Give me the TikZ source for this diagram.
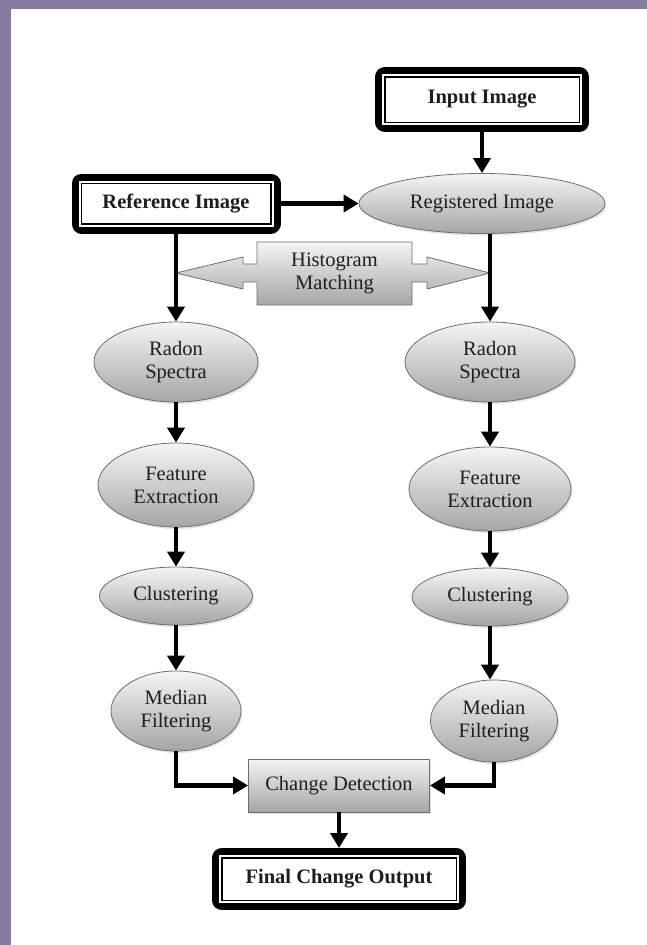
\documentclass[tikz,border=0pt]{standalone}
\usepackage{fontspec}
\setmainfont{Liberation Serif}
\usepackage{tikz}
\usetikzlibrary{arrows.meta,shapes,positioning,shadows}
\usepackage{xcolor}
\definecolor{dfframe}{RGB}{134,123,161}
\definecolor{dfborder}{RGB}{110,110,110}
\definecolor{dftext}{RGB}{30,30,30}
\definecolor{dftop}{RGB}{245,245,245}
\definecolor{dfshade}{RGB}{165,165,165}
\tikzstyle{arrow} = [line width=4.5pt,-{Triangle[width=17pt,length=15pt]},color=black]
\tikzstyle{iobox} = [rectangle, draw=black, line width=1.5pt, fill=white, inner sep=0pt, outer sep=9.75pt, text=dftext, font=\bfseries, preaction={draw=black, line width=19.5pt, line join=round}, preaction={draw=white, line width=5.5pt}]
\tikzstyle{proc} = [ellipse, draw=dfborder, line width=0.8pt, top color=dftop, bottom color=dfshade, inner sep=0pt, align=center, text=dftext, drop shadow={opacity=0.2, shadow xshift=1.5pt, shadow yshift=-2pt}]
\tikzstyle{hist} = [draw=dfborder, line width=0.8pt, top color=dftop, bottom color=dfshade]

\begin{document}
\fontsize{20.5}{23}\selectfont
\begin{tikzpicture}[x=1pt, y=-1pt]
% Frame
\useasboundingbox (0,0) rectangle (647,945);
\fill[dfframe] (0,0) rectangle (647,945);
\fill[white] (11,9) rectangle (647,945);

% Inputs
\node[iobox, minimum width=194.5pt, minimum height=45.5pt] (inimg) at (482,99.5) {Input Image};
\node[iobox, minimum width=189.5pt, minimum height=40.5pt] (refimg) at (176,203.5) {Reference Image};
\node[proc, minimum width=246pt, minimum height=60pt] (regimg) at (482,203.5) {Registered Image};

% Histogram matching
\draw[hist] (176,273) -- (243,257) -- (243,264) -- (257,264) -- (257,242) -- (412,242) -- (412,264)
  -- (427,264) -- (427,257) -- (490,273) -- (427,289) -- (427,282) -- (412,282) -- (412,305)
  -- (257,305) -- (257,282) -- (243,282) -- (243,289) -- cycle;
\node[align=center, text=dftext] (histo) at (334.5,273.5) {Histogram\\Matching};

% Left branch
\node[proc, minimum width=164pt, minimum height=80pt] (radonL) at (176,362) {Radon\\Spectra};
\node[proc, minimum width=156pt, minimum height=84pt] (featL) at (176,485) {Feature\\Extraction};
\node[proc, minimum width=153pt, minimum height=58pt] (clustL) at (176,596) {Clustering};
\node[proc, minimum width=130pt, minimum height=80pt] (medL) at (176,711) {Median\\Filtering};

% Right branch
\node[proc, minimum width=170pt, minimum height=80pt] (radonR) at (490,362) {Radon\\Spectra};
\node[proc, minimum width=162pt, minimum height=84pt] (featR) at (490,489) {Feature\\Extraction};
\node[proc, minimum width=156pt, minimum height=58pt] (clustR) at (490,597) {Clustering};
\node[proc, minimum width=127pt, minimum height=82pt] (medR) at (494,721) {Median\\Filtering};

% Output
\node[rectangle, draw=dfborder, line width=0.8pt, top color=dftop, bottom color=dfshade, text=dftext,
  minimum width=181pt, minimum height=53pt, inner sep=0pt,
  drop shadow={opacity=0.2, shadow xshift=1.5pt, shadow yshift=-2pt}] (change) at (339,785.5) {Change Detection};
\node[iobox, minimum width=234.5pt, minimum height=42.5pt] (final) at (339,879) {Final Change Output};

% Arrows
\draw[arrow] (inimg) -- (regimg);
\draw[arrow] (refimg) -- (regimg);
\draw[arrow] (refimg) -- (radonL);
\draw[arrow] (radonR |- regimg.south) -- (radonR);
\draw[arrow] (radonL) -- (featL);
\draw[arrow] (featL) -- (clustL);
\draw[arrow] (clustL) -- (medL);
\draw[arrow] (radonR) -- (featR);
\draw[arrow] (featR) -- (clustR);
\draw[arrow] (clustR.south) -- (clustR.south |- medR.north);
\draw[arrow] (medL.south) |- (change.west);
\draw[arrow] (medR.south) |- (change.east);
\draw[arrow] (change) -- (final);
\end{tikzpicture}
\end{document}
